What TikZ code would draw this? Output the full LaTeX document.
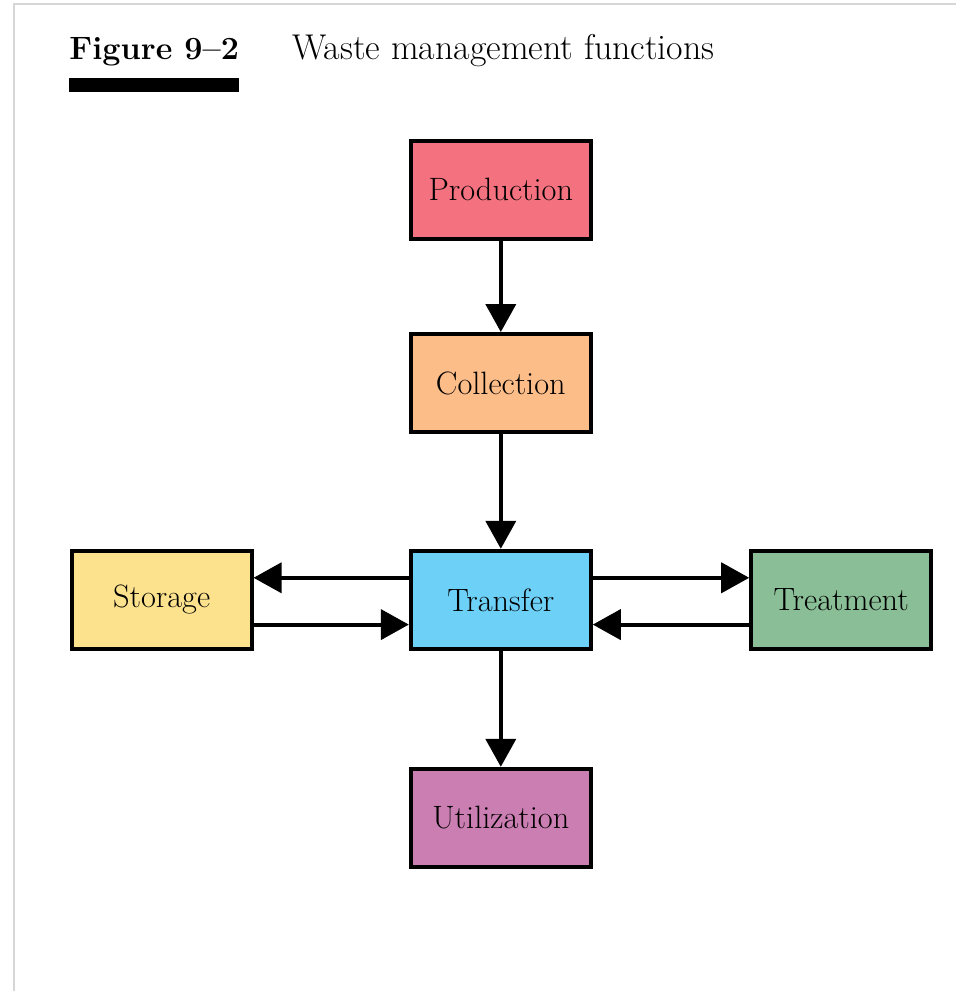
\documentclass[tikz,border=0pt]{standalone}
\usepackage{xcolor}
\usepackage{tikz}
\usetikzlibrary{arrows.meta}
\definecolor{WMProd}{HTML}{F4717F}
\definecolor{WMColl}{HTML}{FDBD89}
\definecolor{WMTrans}{HTML}{6DD0F7}
\definecolor{WMStore}{HTML}{FDE28E}
\definecolor{WMTreat}{HTML}{89BE96}
\definecolor{WMUtil}{HTML}{CB7EB2}
\definecolor{WMEdge}{HTML}{D6D6D6}
\tikzset{
  fnbox/.style={draw=black,line width=2.8pt,minimum width=4.5cm,minimum height=2.45cm,
    inner sep=0pt,font=\fontsize{23}{27}\selectfont},
  fnflow/.style={line width=2.8pt,-{Triangle[length=0.7cm,width=0.75cm]}}
}

\begin{document}
\begin{tikzpicture}[x=1cm,y=1cm]
\path[use as bounding box] (0,0) rectangle (23.90,24.775);
\fill[white] (0,0) rectangle (23.90,24.775);
\draw[WMEdge,line width=1.5pt] (0.35,0) -- (0.35,24.68) -- (23.90,24.68);
\node[anchor=base west,inner sep=0pt,font=\fontsize{23}{28}\selectfont\bfseries] (fignum) at (1.73,23.28) {Figure 9--2};
\node[anchor=base west,inner sep=0pt,font=\fontsize{25.5}{30}\selectfont] (figtitle) at (7.30,23.28) {Waste management functions};
\fill[black] (1.73,22.475) rectangle (5.98,22.825);
\node[fnbox,fill=WMProd] (production) at (12.52,20.03) {Production};
\node[fnbox,fill=WMColl] (collection) at (12.52,15.20) {Collection};
\node[fnbox,fill=WMTrans] (transfer) at (12.52,9.78) {Transfer};
\node[fnbox,fill=WMStore] (storage) at (4.04,9.78) {Storage};
\node[fnbox,fill=WMTreat] (treatment) at (21.03,9.78) {Treatment};
\node[fnbox,fill=WMUtil] (utilization) at (12.52,4.33) {Utilization};
\draw[fnflow] (production.south) -- (collection.north);
\draw[fnflow] (collection.south) -- (transfer.north);
\draw[fnflow] (transfer.south) -- (utilization.north);
\draw[fnflow] ([yshift=0.55cm]transfer.west) -- ([yshift=0.55cm]storage.east);
\draw[fnflow] ([yshift=-0.62cm]storage.east) -- ([yshift=-0.62cm]transfer.west);
\draw[fnflow] ([yshift=0.55cm]transfer.east) -- ([yshift=0.55cm]treatment.west);
\draw[fnflow] ([yshift=-0.62cm]treatment.west) -- ([yshift=-0.62cm]transfer.east);
\end{tikzpicture}
\end{document}
